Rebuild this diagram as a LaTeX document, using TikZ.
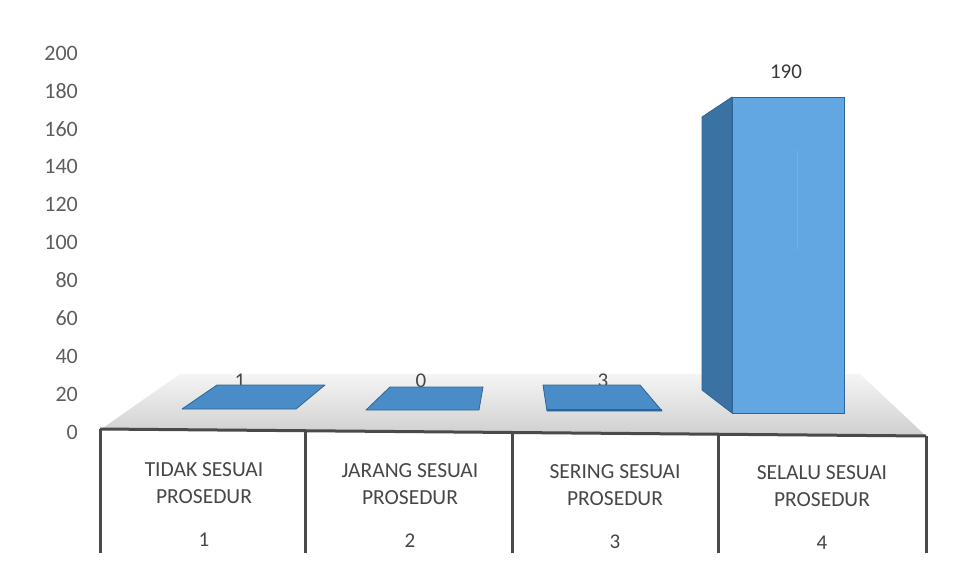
\documentclass[tikz,border=0pt]{standalone}
\usepackage{fontspec}
\setmainfont{Carlito}
\definecolor{axistxt}{HTML}{5E5E5E}
\definecolor{cattxt}{HTML}{474747}
\definecolor{gridline}{HTML}{4A4A4A}
\definecolor{barfront}{HTML}{62A6E2}
\definecolor{barside}{HTML}{3B72A4}
\definecolor{barflat}{HTML}{4A8CC8}
\definecolor{baredge}{HTML}{2F6594}
\begin{document}
\begin{tikzpicture}[x=1pt,y=-1pt,
  axislbl/.style={anchor=east,text=axistxt,font=\fontsize{22}{24}\selectfont,inner sep=0pt},
  catlbl/.style={text=cattxt,font=\fontsize{21.5}{27}\selectfont,align=center,inner sep=0pt},
  vallbl/.style={text=cattxt,font=\fontsize{21}{24}\selectfont,inner sep=0pt},
  tableline/.style={draw=gridline,line width=3pt},
  flatbar/.style={fill=barflat,draw=baredge,line width=0.8pt,line join=round}]
\useasboundingbox (0,0) rectangle (961,570);
\fill[white] (0,0) rectangle (961,570);
% floor
\shade[top color=white!92!gray,bottom color=gray!38] (100,430) -- (180,374) -- (860,374) -- (926,436) -- cycle;
% y axis labels
\foreach \v [count=\i from 0] in {0,20,40,60,80,100,120,140,160,180,200}{
  \node[axislbl] (y\v) at (78,{432-37.9*\i}) {\v};
}
% value labels (partly behind bars)
\node[vallbl] (v1) at (240,381) {1};
\node[vallbl] (v2) at (421,381) {0};
\node[vallbl] (v3) at (603,381) {3};
% flat bars
\draw[flatbar] (182,409) -- (296,409) -- (325,385) -- (217,385) -- cycle;
\draw[flatbar] (366,410) -- (479,410) -- (483,387) -- (390,387) -- cycle;
\draw[flatbar] (547,411) -- (662,411) -- (640,385) -- (543,385) -- cycle;
\draw[baredge,line width=1.2pt] (547,410) -- (662,410);
% tall bar
\coordinate (sTL) at (702,117);
\coordinate (fTL) at (732,97);
\coordinate (fTR) at (844,97);
\coordinate (fBR) at (844,413);
\coordinate (fBL) at (732,413);
\coordinate (sBL) at (702,390);
\filldraw[fill=barside,draw=baredge,line width=0.8pt,line join=round] (sTL) -- (fTL) -- (fBL) -- (sBL) -- cycle;
\filldraw[fill=barfront,draw=baredge,line width=0.8pt] (fTL) rectangle (fBR);
\draw[barfront!90!white,line width=1pt] (797,150) -- (797,250);
\node[vallbl,text=black!78] (v4) at (786,72) {190};
% table
\coordinate (t0) at (100,429);
\coordinate (t4) at (926,436);
\foreach \x/\n in {100/0,305/1,512/2,718/3,926/4}{
  \coordinate (top\n) at (\x,{429+7*(\x-100)/826});
  \coordinate (bot\n) at (\x,553);
}
\draw[tableline] (top0) -- (top4);
\foreach \n in {0,...,4}{\draw[tableline] (top\n) -- (bot\n);}
% category labels
\node[catlbl] (c1) at (204,483) {TIDAK SESUAI\\PROSEDUR};
\node[catlbl] (c2) at (410,484) {JARANG SESUAI\\PROSEDUR};
\node[catlbl] (c3) at (615,485) {SERING SESUAI\\PROSEDUR};
\node[catlbl] (c4) at (822,486) {SELALU SESUAI\\PROSEDUR};
\node[vallbl,text=cattxt] (n1) at (204,540) {1};
\node[vallbl,text=cattxt] (n2) at (410,541) {2};
\node[vallbl,text=cattxt] (n3) at (615,542) {3};
\node[vallbl,text=cattxt] (n4) at (822,543) {4};
\end{tikzpicture}
\end{document}
